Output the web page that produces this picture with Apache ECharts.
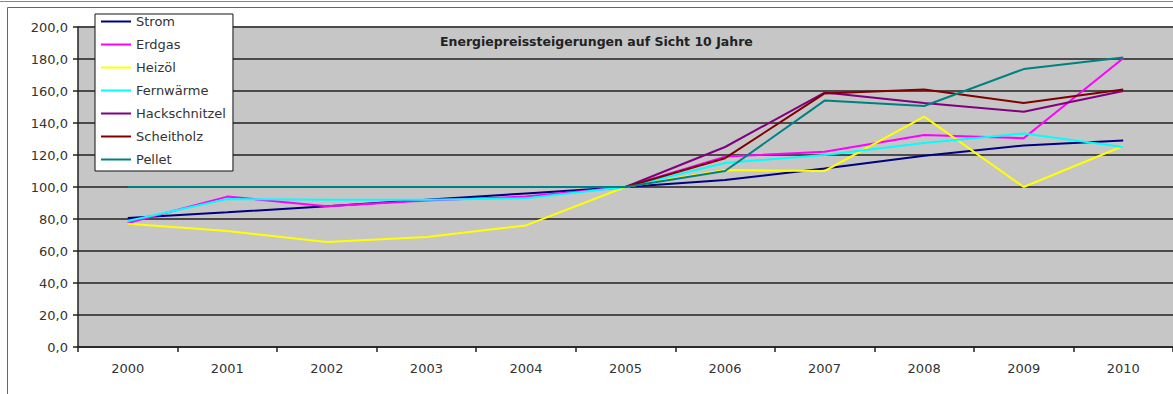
<!DOCTYPE html>
<html>
<head>
<meta charset="utf-8">
<script src="https://cdn.jsdelivr.net/npm/echarts@6/dist/echarts.min.js"></script>
<style>
  html, body { margin: 0; padding: 0; background: #ffffff; }
  #chart { width: 1173px; height: 394px; }
</style>
</head>
<body>
<div id="chart"></div>
<script>
// Jahre (Kategorien der x-Achse)
const years = ['2000', '2001', '2002', '2003', '2004', '2005', '2006', '2007', '2008', '2009', '2010'];

// Preisindex je Energieträger (2005 = 100)
const strom         = [80.6, 84.2, 88.0, 92.0, 96.0, 100, 104.4, 111.5, 119.5, 126.0, 129.0];
const erdgas        = [77.5, 94.0, 88.0, 91.5, 94.0, 100, 119.0, 122.0, 132.5, 130.5, 180.5];
const heizoel       = [77.0, 72.5, 65.6, 68.7, 76.0, 100, 110.6, 110.0, 144.0, 100.0, 125.6];
const fernwaerme    = [78.7, 92.5, 92.0, 92.0, 93.0, 100, 115.0, 120.0, 127.5, 133.5, 125.0];
const hackschnitzel = [100, 100, 100, 100, 100, 100, 125.0, 159.0, 152.5, 147.0, 160.0];
const scheitholz    = [100, 100, 100, 100, 100, 100, 118.0, 158.5, 161.0, 152.5, 161.0];
const pellet        = [100, 100, 100, 100, 100, 100, 110.0, 154.0, 150.6, 173.7, 181.0];

// Achsenbeschriftung
const yTicks = { min: 0, max: 200, step: 20 };
const title = 'Energiepreissteigerungen auf Sicht 10 Jahre';

const seriesDefs = [
  { name: 'Strom',         data: strom,         color: '#000080' },
  { name: 'Erdgas',        data: erdgas,        color: '#ff00ff' },
  { name: 'Heizöl',        data: heizoel,       color: '#ffff00' },
  { name: 'Fernwärme',     data: fernwaerme,    color: '#00ffff' },
  { name: 'Hackschnitzel', data: hackschnitzel, color: '#800080' },
  { name: 'Scheitholz',    data: scheitholz,    color: '#800000' },
  { name: 'Pellet',        data: pellet,        color: '#008080' }
];

const font = 'DejaVu Sans';
const chart = echarts.init(document.getElementById('chart'), null, { renderer: 'svg' });

chart.setOption({
  animation: false,
  backgroundColor: '#ffffff',
  textStyle: { fontFamily: font },
  title: {
    text: title,
    left: 440,
    top: 35,
    padding: 0,
    textStyle: { fontFamily: font, fontSize: 12.5, fontWeight: 'bold', color: '#222' }
  },
  legend: {
    orient: 'vertical',
    left: 95,
    top: 14,
    padding: [1, 7, 5, 5],
    itemWidth: 30,
    itemHeight: 14,
    itemGap: 10,
    backgroundColor: '#ffffff',
    borderColor: '#111',
    borderWidth: 1,
    // nur die Linie als Legendensymbol, ohne Punktmarker
    itemStyle: { opacity: 0 },
    textStyle: { fontFamily: font, fontSize: 13, color: '#333' },
    data: seriesDefs.map(s => s.name)
  },
  grid: {
    left: 78,
    top: 27,
    width: 1096,
    height: 320,
    show: true,
    backgroundColor: '#c6c6c6',
    borderWidth: 0
  },
  xAxis: {
    type: 'category',
    data: years,
    boundaryGap: true,
    axisLine: { lineStyle: { color: '#222', width: 1.5 } },
    axisTick: { show: true, length: 5, lineStyle: { color: '#222', width: 1.5 } },
    axisLabel: { margin: 15, fontFamily: font, fontSize: 13, color: '#333' },
    splitLine: { show: false }
  },
  yAxis: {
    type: 'value',
    min: yTicks.min,
    max: yTicks.max,
    interval: yTicks.step,
    axisLine: { show: true, lineStyle: { color: '#222', width: 1.5 } },
    axisTick: { show: true, length: 5, lineStyle: { color: '#222', width: 1.5 } },
    axisLabel: {
      margin: 10,
      fontFamily: font,
      fontSize: 13,
      color: '#333',
      formatter: v => v.toFixed(1).replace('.', ',')
    },
    splitLine: { show: true, lineStyle: { color: '#4a4a4a', width: 2 } }
  },
  graphic: [
    { type: 'line', shape: { x1: 0, y1: 1.5, x2: 1173, y2: 1.5 }, style: { stroke: '#888', lineWidth: 1 }, silent: true },
    { type: 'line', shape: { x1: 7.5, y1: 7.5, x2: 1173, y2: 7.5 }, style: { stroke: '#666', lineWidth: 1 }, silent: true },
    { type: 'line', shape: { x1: 7.5, y1: 7.5, x2: 7.5, y2: 394 }, style: { stroke: '#666', lineWidth: 1 }, silent: true }
  ],
  series: seriesDefs.map(s => ({
    name: s.name,
    type: 'line',
    data: s.data,
    symbol: 'none',
    color: s.color,
    lineStyle: { color: s.color, width: 2 }
  }))
});
</script>
</body>
</html>
